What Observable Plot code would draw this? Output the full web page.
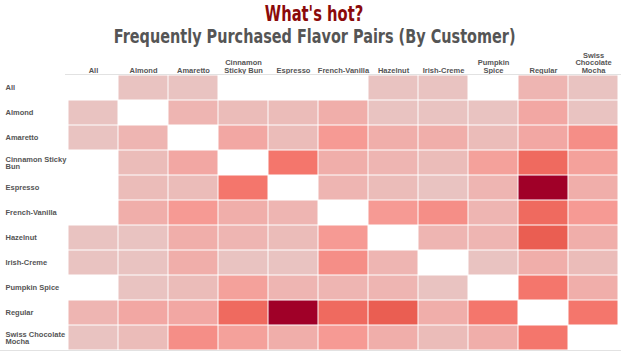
<!DOCTYPE html>
<html>
<head>
<meta charset="utf-8">
<script src="https://cdn.jsdelivr.net/npm/d3@7"></script>
<script src="https://cdn.jsdelivr.net/npm/@observablehq/plot@0.6"></script>
<style>
  html, body { margin: 0; padding: 0; background: #fff; }
  #wrap { width: 629px; height: 355px; position: relative; overflow: hidden; }
  .title { position: absolute; left: 0; width: 629px; top: 3px; text-align: center; font-family: "DejaVu Sans Condensed", "DejaVu Sans", sans-serif; font-weight: bold; color: #8b0a0a; font-size: 21px; line-height: 22px; height: 22px; }
  .subtitle { position: absolute; left: 0; width: 629px; top: 26px; text-align: center; font-family: "DejaVu Sans Condensed", "DejaVu Sans", sans-serif; font-weight: bold; color: #555; font-size: 19px; line-height: 20px; height: 20px; }
  .title span, .subtitle span { display: inline-block; transform-origin: center; }
  .title span { transform: scaleX(0.78); }
  .subtitle span { transform: scaleX(0.845); }
  #chart { position: absolute; left: 0; top: 50px; }
  #chart svg { display: block; }
  svg text { font-weight: bold; }
  .hline { position: absolute; height: 1px; background: #e2e2e2; }
</style>
</head>
<body>
<div id="wrap">
  <div class="title"><span>What's hot?</span></div>
  <div class="subtitle"><span>Frequently Purchased Flavor Pairs (By Customer)</span></div>
  <div id="chart"></div>
  <div class="hline" style="left:65px; width:556px; top:74px;"></div>
  <div class="hline" style="left:0; width:621px; top:350px;"></div>
</div>
<script>
const flavors = ["All","Almond","Amaretto","Cinnamon Sticky Bun","Espresso","French-Vanilla","Hazelnut","Irish-Creme","Pumpkin Spice","Regular","Swiss Chocolate Mocha"];
const columnLabels = ["All","Almond","Amaretto","Cinnamon\nSticky Bun","Espresso","French-Vanilla","Hazelnut","Irish-Creme","Pumpkin\nSpice","Regular","Swiss\nChocolate\nMocha"];
const rowLabels = ["All","Almond","Amaretto","Cinnamon Sticky\nBun","Espresso","French-Vanilla","Hazelnut","Irish-Creme","Pumpkin Spice","Regular","Swiss Chocolate\nMocha"];

// pair counts per row (null = no pairs)
const rowAll        = [null, 2, 2, null, null, null, 2, 2, null, 4, 2];
const rowAlmond     = [2, null, 4, 3, 3, 5, 2, 2, 2, 6, 2];
const rowAmaretto   = [2, 4, null, 6, 3, 8, 5, 5, 3, 6, 9];
const rowCinnamon   = [null, 3, 6, null, 11, 5, 4, 3, 7, 12, 7];
const rowEspresso   = [null, 3, 3, 11, null, 4, 3, 2, 4, 24, 5];
const rowFrenchVan  = [null, 5, 8, 5, 4, null, 8, 9, 4, 12, 8];
const rowHazelnut   = [2, 2, 5, 4, 3, 8, null, 4, 4, 13, 5];
const rowIrishCreme = [2, 2, 5, 2, 2, 9, 4, null, 2, 5, 3];
const rowPumpkin    = [null, 2, 3, 7, 4, 4, 4, 2, null, 11, 5];
const rowRegular    = [4, 6, 6, 12, 24, 12, 13, 5, 11, null, 11];
const rowSwiss      = [2, 3, 9, 7, 5, 8, 5, 3, 5, 11, null];

const matrix = [rowAll, rowAlmond, rowAmaretto, rowCinnamon, rowEspresso, rowFrenchVan, rowHazelnut, rowIrishCreme, rowPumpkin, rowRegular, rowSwiss];

const data = [];
matrix.forEach((vals, i) => vals.forEach((v, j) => {
  if (v != null) data.push({row: flavors[i], col: flavors[j], value: v});
}));

const colLab = new Map(flavors.map((f, i) => [f, columnLabels[i]]));
const rowLab = new Map(flavors.map((f, i) => [f, rowLabels[i]]));

const chart = Plot.plot({
  width: 629,
  height: 305,
  marginTop: 25,
  marginBottom: 5,
  marginLeft: 65,
  marginRight: 8,
  style: { fontFamily: "Liberation Sans, Arial, sans-serif", fontSize: "7.5px", color: "#555", background: "#fff" },
  x: { type: "band", domain: flavors, padding: 0, axis: null },
  y: { type: "band", domain: flavors, padding: 0, axis: null },
  color: {
    type: "linear",
    domain: [2, 5, 8, 11, 13, 24],
    range: ["#e9c3c1", "#f0aeaa", "#f69a94", "#f4766c", "#ea5e52", "#a00028"],
    interpolate: "rgb"
  },
  marks: [
    Plot.cell(data, { x: "col", y: "row", fill: "value", inset: 0.5 }),
    Plot.axisX({ anchor: "top", label: null, tickSize: 0, tickPadding: 3, tickFormat: d => colLab.get(d), fill: "#555" }),
    Plot.axisY({ anchor: "left", label: null, tickSize: 0, tickPadding: 60, textAnchor: "start", tickFormat: d => rowLab.get(d), fill: "#555" })
  ]
});
document.getElementById("chart").appendChild(chart);
</script>
</body>
</html>
